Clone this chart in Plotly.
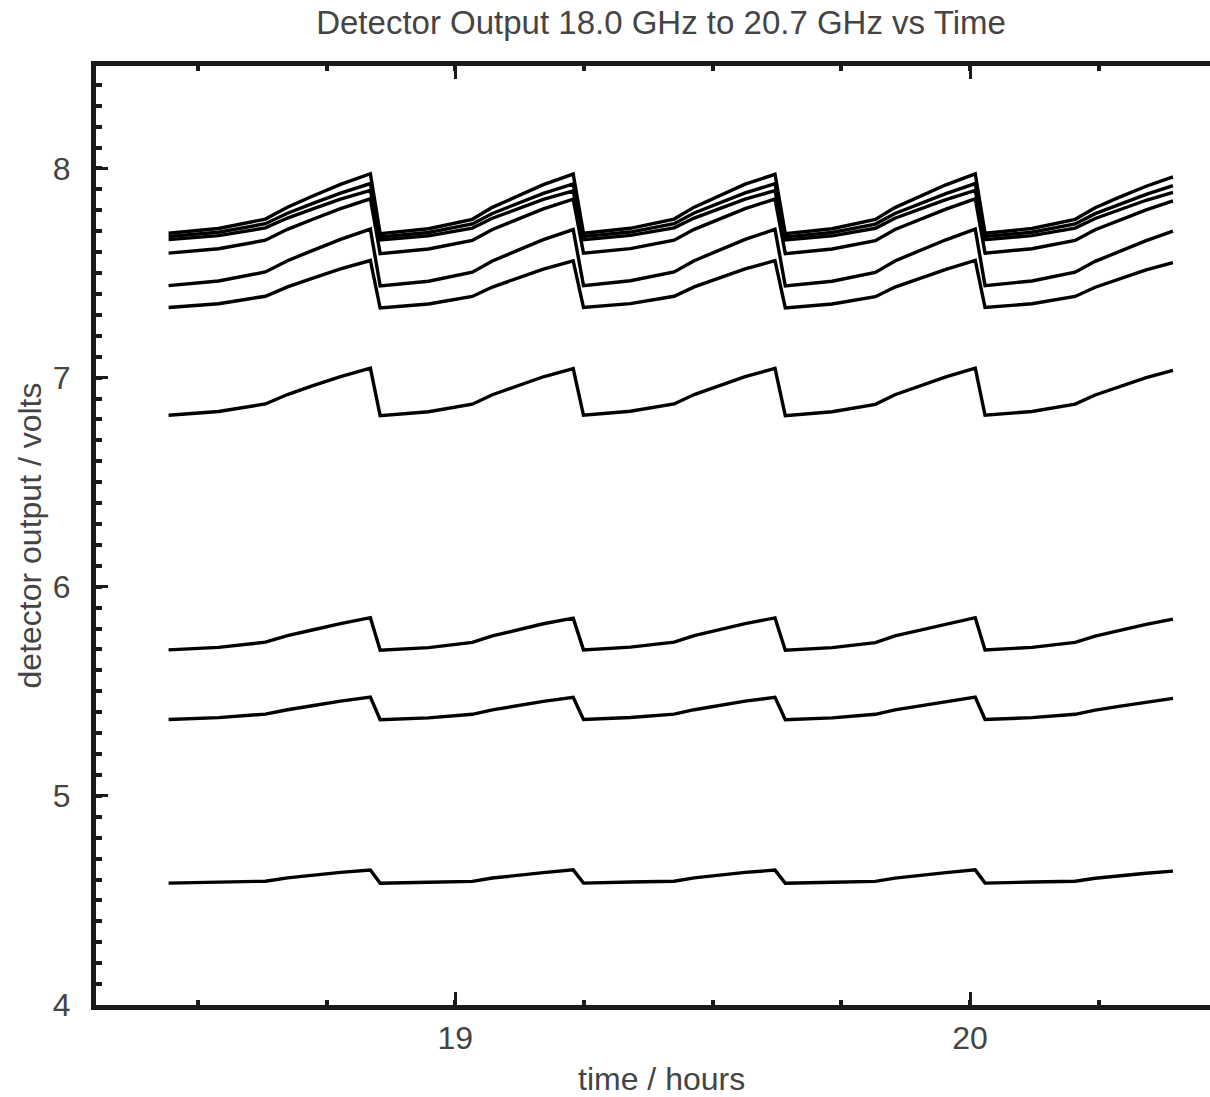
import plotly.graph_objects as go

# time in hours (shared by all detector traces)
time_h = [
    18.443, 18.540, 18.631, 18.674, 18.722, 18.777, 18.835,
    18.854, 18.948, 19.033, 19.072, 19.118, 19.171, 19.229,
    19.249, 19.340, 19.425, 19.464, 19.511, 19.563, 19.621,
    19.641, 19.732, 19.816, 19.854, 19.901, 19.953, 20.010,
    20.029, 20.120, 20.204, 20.243, 20.289, 20.342, 20.394,
]

freq_labels = ["18.0 GHz", "18.3 GHz", "18.6 GHz", "18.9 GHz", "19.2 GHz",
               "19.5 GHz", "19.8 GHz", "20.1 GHz", "20.4 GHz", "20.7 GHz"]

det_1 = [7.690, 7.713, 7.758, 7.815, 7.867, 7.924, 7.975,
         7.688, 7.712, 7.757, 7.814, 7.866, 7.923, 7.973,
         7.690, 7.714, 7.758, 7.815, 7.868, 7.925, 7.972,
         7.688, 7.712, 7.756, 7.813, 7.865, 7.922, 7.974,
         7.690, 7.713, 7.757, 7.812, 7.862, 7.915, 7.960]
det_2 = [7.675, 7.695, 7.736, 7.786, 7.832, 7.882, 7.928,
         7.673, 7.694, 7.735, 7.785, 7.831, 7.881, 7.926,
         7.675, 7.696, 7.736, 7.787, 7.832, 7.883, 7.927,
         7.673, 7.694, 7.734, 7.785, 7.830, 7.880, 7.928,
         7.675, 7.695, 7.735, 7.784, 7.828, 7.876, 7.918]
det_3 = [7.660, 7.679, 7.716, 7.763, 7.806, 7.853, 7.895,
         7.658, 7.678, 7.715, 7.762, 7.805, 7.852, 7.893,
         7.660, 7.680, 7.716, 7.763, 7.806, 7.853, 7.894,
         7.658, 7.678, 7.714, 7.762, 7.804, 7.851, 7.895,
         7.660, 7.679, 7.715, 7.761, 7.802, 7.848, 7.886]
det_4 = [7.595, 7.616, 7.657, 7.709, 7.756, 7.808, 7.855,
         7.593, 7.615, 7.656, 7.708, 7.755, 7.807, 7.853,
         7.595, 7.617, 7.657, 7.709, 7.756, 7.808, 7.854,
         7.593, 7.615, 7.655, 7.708, 7.754, 7.806, 7.855,
         7.595, 7.616, 7.656, 7.707, 7.752, 7.802, 7.845]
det_5 = [7.440, 7.462, 7.505, 7.559, 7.607, 7.661, 7.710,
         7.438, 7.461, 7.504, 7.558, 7.606, 7.660, 7.708,
         7.440, 7.463, 7.505, 7.559, 7.607, 7.661, 7.709,
         7.438, 7.461, 7.503, 7.558, 7.605, 7.659, 7.710,
         7.440, 7.462, 7.504, 7.556, 7.603, 7.655, 7.700]
det_6 = [7.335, 7.353, 7.389, 7.434, 7.475, 7.520, 7.560,
         7.333, 7.352, 7.388, 7.433, 7.474, 7.519, 7.558,
         7.335, 7.354, 7.389, 7.434, 7.475, 7.520, 7.559,
         7.333, 7.352, 7.387, 7.433, 7.473, 7.518, 7.560,
         7.335, 7.353, 7.388, 7.432, 7.471, 7.515, 7.550]
det_7 = [6.820, 6.838, 6.874, 6.919, 6.960, 7.005, 7.045,
         6.818, 6.837, 6.873, 6.918, 6.959, 7.004, 7.043,
         6.820, 6.839, 6.874, 6.919, 6.960, 7.005, 7.044,
         6.818, 6.837, 6.872, 6.918, 6.958, 7.003, 7.045,
         6.820, 6.838, 6.873, 6.917, 6.956, 7.000, 7.035]
det_8 = [5.698, 5.710, 5.735, 5.766, 5.793, 5.824, 5.852,
         5.696, 5.709, 5.734, 5.765, 5.792, 5.823, 5.850,
         5.698, 5.711, 5.735, 5.766, 5.793, 5.824, 5.851,
         5.696, 5.709, 5.733, 5.765, 5.791, 5.822, 5.852,
         5.698, 5.710, 5.734, 5.764, 5.790, 5.820, 5.845]
det_9 = [5.365, 5.374, 5.391, 5.412, 5.431, 5.453, 5.472,
         5.364, 5.373, 5.390, 5.411, 5.430, 5.452, 5.471,
         5.365, 5.375, 5.391, 5.412, 5.431, 5.453, 5.471,
         5.364, 5.373, 5.390, 5.411, 5.430, 5.452, 5.472,
         5.365, 5.374, 5.390, 5.410, 5.428, 5.449, 5.466]
det_10 = [4.583, 4.588, 4.592, 4.608, 4.621, 4.634, 4.645,
          4.582, 4.587, 4.591, 4.607, 4.620, 4.633, 4.646,
          4.583, 4.588, 4.592, 4.608, 4.621, 4.634, 4.645,
          4.582, 4.587, 4.591, 4.607, 4.620, 4.633, 4.646,
          4.583, 4.588, 4.592, 4.606, 4.618, 4.630, 4.640]

series = [det_1, det_2, det_3, det_4, det_5, det_6, det_7, det_8, det_9, det_10]

FONT = "Liberation Sans, Arial, Helvetica, sans-serif"
TEXT = "#444444"
AX = "#1a1a1a"

fig = go.Figure()
for name, vals in zip(freq_labels, series):
    fig.add_trace(go.Scatter(x=time_h, y=vals, mode="lines", name=name,
                             line=dict(color="black", width=3.4),
                             showlegend=False))

fig.update_layout(
    width=1210, height=1097,
    margin=dict(l=96, r=0, t=66, b=92),
    paper_bgcolor="white", plot_bgcolor="white",
    font=dict(family=FONT, color=TEXT, size=32),
    title=dict(text="Detector Output 18.0 GHz to 20.7 GHz vs Time",
               x=661 / 1210, xref="container", xanchor="center",
               y=1 - 22 / 1097, yref="container", yanchor="middle",
               font=dict(size=33, color=TEXT, family=FONT)),
    annotations=[dict(text="time / hours", xref="paper", yref="paper",
                      x=(661 - 95.5) / (1210 - 95.5), y=-(1080 - 1005.5) / 940,
                      xanchor="center", yanchor="middle", showarrow=False,
                      font=dict(size=32, color=TEXT, family=FONT))],
)

fig.update_xaxes(
    range=[18.302, 20.466], showgrid=False, zeroline=False,
    showline=True, linewidth=5, linecolor=AX, mirror="allticks",
    tickmode="array", tickvals=[19, 20], ticktext=["19", "20"],
    ticks="inside", ticklen=13, tickwidth=3, tickcolor=AX,
    tickfont=dict(size=32, color=TEXT), ticklabelstandoff=1,
    minor=dict(dtick=0.25, tick0=19, ticks="inside", ticklen=5, tickwidth=4, tickcolor=AX),
)
fig.update_yaxes(
    range=[4, 8.49], showgrid=False, zeroline=False,
    showline=True, linewidth=5, linecolor=AX, mirror=False,
    tickmode="array", tickvals=[4, 5, 6, 7, 8], ticktext=["4", "5", "6", "7", "8"],
    ticks="inside", ticklen=12, tickwidth=3, tickcolor=AX,
    tickfont=dict(size=32, color=TEXT), ticklabelstandoff=14,
    minor=dict(dtick=0.1, tick0=4, ticks="inside", ticklen=6, tickwidth=4, tickcolor=AX),
    title=dict(text="detector output / volts", font=dict(size=32, color=TEXT), standoff=3),
)

fig.write_html("out.html")
